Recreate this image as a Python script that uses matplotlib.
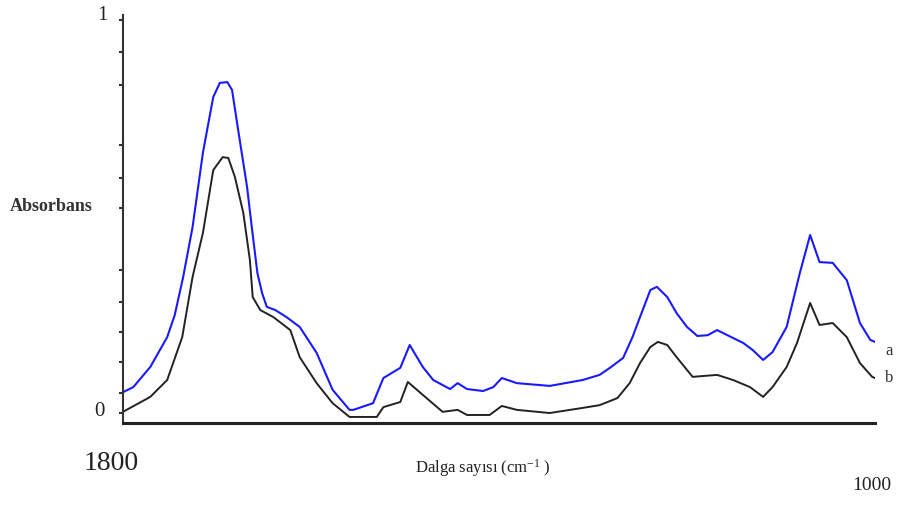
import matplotlib
matplotlib.use("Agg")
import matplotlib.pyplot as plt

plt.rcParams['font.family'] = ['Liberation Serif', 'DejaVu Serif']
plt.rcParams['mathtext.default'] = 'regular'

# Wavenumber (cm^-1) and absorbance
wn_a = [1800, 1789, 1771, 1753, 1745, 1736, 1726, 1715, 1704, 1697, 1689, 1684,
        1678, 1668, 1663, 1657, 1652, 1647, 1638, 1626, 1612, 1594, 1577, 1559,
        1555, 1534, 1523, 1505, 1495, 1481, 1470, 1452, 1444, 1434, 1417, 1406,
        1397, 1381, 1346, 1311, 1293, 1282, 1268, 1258, 1250, 1239, 1232, 1221,
        1211, 1200, 1189, 1178, 1168, 1157, 1140, 1130, 1119, 1109, 1094, 1080,
        1069, 1059, 1045, 1030, 1016, 1005, 1000]
abs_a = [0.053, 0.066, 0.117, 0.193, 0.249, 0.346, 0.473, 0.662, 0.804, 0.840, 0.842, 0.822,
         0.728, 0.575, 0.473, 0.356, 0.305, 0.270, 0.262, 0.244, 0.219, 0.153, 0.059, 0.008,
         0.008, 0.025, 0.089, 0.115, 0.173, 0.117, 0.084, 0.061, 0.076, 0.061, 0.056, 0.066,
         0.089, 0.076, 0.069, 0.084, 0.097, 0.115, 0.140, 0.193, 0.244, 0.313, 0.321, 0.295,
         0.254, 0.219, 0.196, 0.198, 0.211, 0.198, 0.178, 0.160, 0.135, 0.155, 0.219, 0.356,
         0.453, 0.384, 0.382, 0.338, 0.229, 0.186, 0.181]

wn_b = [1800, 1771, 1753, 1737, 1726, 1715, 1704, 1694, 1688, 1681, 1672, 1665,
        1662, 1654, 1640, 1622, 1612, 1594, 1577, 1559, 1530, 1523, 1505, 1497,
        1481, 1460, 1444, 1434, 1410, 1397, 1381, 1346, 1311, 1293, 1274, 1261,
        1250, 1239, 1231, 1221, 1211, 1194, 1168, 1151, 1133, 1119, 1109, 1094,
        1083, 1069, 1059, 1045, 1030, 1016, 1003, 1000]
abs_b = [0.003, 0.041, 0.084, 0.193, 0.346, 0.458, 0.618, 0.651, 0.649, 0.601, 0.509, 0.389,
         0.295, 0.262, 0.244, 0.211, 0.142, 0.076, 0.025, -0.010, -0.010, 0.015, 0.028, 0.079,
         0.046, 0.003, 0.008, -0.005, -0.005, 0.018, 0.008, 0.000, 0.013, 0.020, 0.038, 0.076,
         0.127, 0.168, 0.181, 0.173, 0.142, 0.092, 0.097, 0.084, 0.066, 0.041, 0.066, 0.117,
         0.178, 0.280, 0.224, 0.229, 0.193, 0.127, 0.092, 0.089]

y_ticks = [0.0, 0.051, 0.130, 0.206, 0.282, 0.364, 0.522, 0.598, 0.682, 0.835, 0.919, 1.0]
series_labels = ['a', 'b']

W, H = 901, 505
fig = plt.figure(figsize=(W / 100, H / 100), dpi=100)
ax = fig.add_axes([123 / W, 1 - 423 / H, (875 - 123) / W, (423 - 15) / H])

ax.plot(wn_a, abs_a, color='#1a1aff', lw=1.5, solid_joinstyle='round')
ax.plot(wn_b, abs_b, color='#222222', lw=1.4, solid_joinstyle='round')

ax.set_xlim(1800, 1000)
ax.set_ylim(-0.0254, 1.0127)

for s in ['top', 'right']:
    ax.spines[s].set_visible(False)
ax.spines['left'].set_color('#333333')
ax.spines['left'].set_linewidth(1.5)
ax.spines['bottom'].set_color('#222222')
ax.spines['bottom'].set_linewidth(2.2)

ax.set_xticks([])
ax.set_yticks(y_ticks)
ax.set_yticklabels([])
ax.tick_params(axis='y', direction='out', length=3, width=1.5, color='#333333')

# Texts
fig.text(102 / W, 1 - 15 / H, '1', ha='center', va='center', fontsize=15, color='#222222')
fig.text(99 / W, 1 - 411 / H, '0', ha='center', va='center', fontsize=15, color='#222222')
fig.text(10 / W, 1 - 207 / H, 'Absorbans', ha='left', va='center', fontsize=13,
         fontweight='bold', color='#333333')
fig.text(111 / W, 1 - 464 / H, '1800', ha='center', va='center', fontsize=20, color='#222222')
fig.text(872 / W, 1 - 485 / H, '1000', ha='center', va='center', fontsize=14, color='#222222')
fig.text(415 / W, 1 - 468 / H, 'Dalga sayısı (cm$^{-1}$ )', ha='left', va='center',
         fontsize=12, color='#222222')
fig.text(889 / W, 1 - 351 / H, series_labels[0], ha='center', va='center', fontsize=12, color='#333333')
fig.text(889 / W, 1 - 378 / H, series_labels[1], ha='center', va='center', fontsize=12, color='#333333')

fig.savefig('out.png', dpi=100)
